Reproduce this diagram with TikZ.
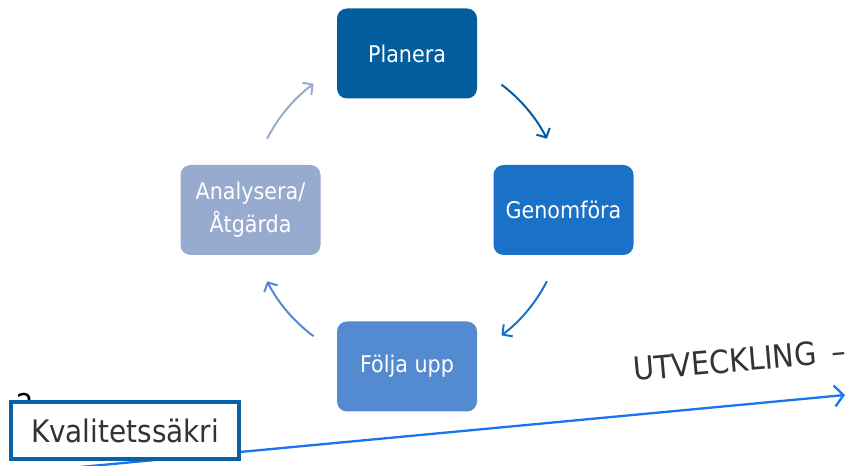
\documentclass[tikz,border=0pt]{standalone}
\usepackage{fontspec}
\setmainfont{DejaVu Sans Condensed}
\usetikzlibrary{arrows.meta}
\definecolor{planblue}{RGB}{2,93,158}
\definecolor{genblue}{RGB}{26,113,200}
\definecolor{foljblue}{RGB}{84,138,208}
\definecolor{analblue}{RGB}{151,171,206}
\definecolor{kvblue}{RGB}{8,98,170}
\definecolor{devblue}{RGB}{24,116,240}
\definecolor{textgray}{RGB}{51,51,51}

\begin{document}
\begin{tikzpicture}[x=1pt,y=1pt,>={Straight Barb[length=7pt,width=15pt]},node distance=156.5pt,
    stepbox/.style={rounded corners=10pt,minimum width=140pt,minimum height=90pt,
      text=white,font=\fontsize{23}{33}\selectfont,align=center},
    cycarrow/.style={->,line width=2pt}]
      \useasboundingbox (0,0) rectangle (849,466);
      \coordinate (mid) at (407,256);
      \node[stepbox,fill=planblue] (pl) [above of=mid] {Planera};
      \node[stepbox,fill=genblue] (ge) [right of=mid] {Genomföra};
      \node[stepbox,fill=foljblue] (fo) [below of=mid] {Följa upp};
      \node[stepbox,fill=analblue] (an) [left of=mid] {Analysera/\\Åtgärda};

      % arrows round the cycle
      \draw[cycarrow,planblue] ([shift={(53:157pt)}]mid) arc[start angle=53,end angle=27,radius=157pt];
      \draw[cycarrow,genblue] ([shift={(-27:157pt)}]mid) arc[start angle=-27,end angle=-53,radius=157pt];
      \draw[cycarrow,foljblue] ([shift={(233.5:157pt)}]mid) arc[start angle=233.5,end angle=207,radius=157pt];
      \draw[cycarrow,analblue] ([shift={(153:157pt)}]mid) arc[start angle=153,end angle=126.5,radius=157pt];

      % development line
      \node[text=black,font=\fontsize{30}{30}\selectfont,inner sep=0pt] (two) at (25,62) {2};
      \coordinate (dstart) at (70,-2);
      \coordinate (dend) at (845,71);
      \draw[->,devblue,line width=2.3pt,>={Straight Barb[length=9pt,width=21pt]}] (dstart) -- (dend);
      \node[draw=kvblue,line width=3.5pt,fill=white,text=textgray,minimum width=228pt,minimum height=57pt,
        font=\fontsize{31}{31}\selectfont] (kv) at (125,35.5) {Kvalitetssäkri};
      \node[rotate=5,anchor=base west,text=textgray,font=\fontsize{32}{32}\selectfont,inner sep=0pt] (utv)
        at (634,85) {UTVECKLING\hspace{6pt} –};
    \end{tikzpicture}
\end{document}
